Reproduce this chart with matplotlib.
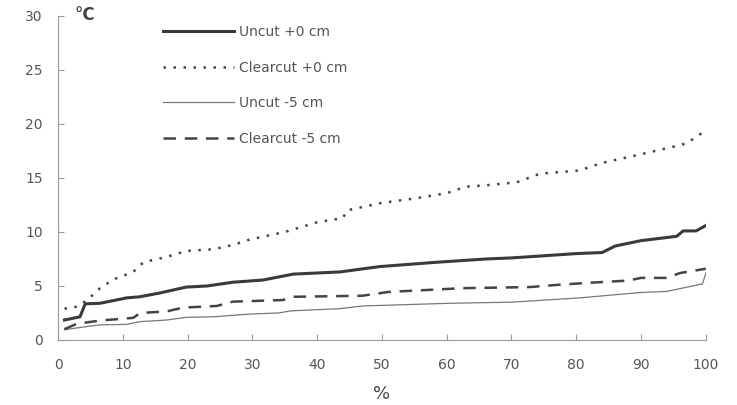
import matplotlib
matplotlib.use("Agg")
import matplotlib.pyplot as plt

# percentile (x) and temperature (y)
uncut0_x = [1, 3.4, 4.2, 6.5, 10.6, 12.6, 15.7, 19.8, 23, 27, 31.6, 36.3, 43.5, 49.7,
            58.5, 66, 70, 80, 84, 86, 90, 95.5, 96.5, 98.5, 100]
uncut0_y = [1.85, 2.15, 3.35, 3.4, 3.9, 4.0, 4.35, 4.9, 5.0, 5.35, 5.55, 6.1, 6.3, 6.8,
            7.2, 7.5, 7.6, 8.0, 8.1, 8.7, 9.2, 9.6, 10.1, 10.1, 10.6]

clear0_x = [1, 3, 4.5, 6.5, 8.5, 11.6, 13.2, 16.8, 19.8, 24, 27, 29.6, 35, 40, 44, 44.6,
            50, 55, 60, 63, 65.6, 70.8, 74.4, 80.5, 84, 90, 95, 97, 100]
clear0_y = [2.9, 3.1, 3.7, 4.8, 5.6, 6.3, 7.2, 7.7, 8.25, 8.4, 8.8, 9.3, 10.0, 10.9, 11.3, 12.0,
            12.7, 13.1, 13.6, 14.2, 14.3, 14.6, 15.4, 15.7, 16.4, 17.2, 17.9, 18.2, 19.4]

uncut5_x = [1, 3.9, 6.5, 10.6, 12.7, 16.8, 19.8, 24, 29.6, 34, 36, 43.5, 47, 60.5, 65, 70,
            80.5, 90, 94, 99.5, 100]
uncut5_y = [0.95, 1.2, 1.4, 1.45, 1.7, 1.85, 2.1, 2.15, 2.4, 2.5, 2.7, 2.9, 3.15, 3.4, 3.45, 3.5,
            3.9, 4.4, 4.5, 5.2, 6.2]

clear5_x = [1, 2.9, 6.5, 11.6, 12.7, 16.8, 19.3, 24.5, 27, 34.7, 36.3, 47, 51, 62.5, 72.8, 77,
            82, 88, 90, 94, 96, 100]
clear5_y = [1.0, 1.5, 1.8, 2.05, 2.5, 2.65, 3.0, 3.15, 3.55, 3.7, 4.0, 4.1, 4.45, 4.8, 4.9, 5.1,
            5.3, 5.5, 5.75, 5.75, 6.2, 6.6]

labels = ["Uncut +0 cm", "Clearcut +0 cm", "Uncut -5 cm", "Clearcut -5 cm"]
xticks = list(range(0, 101, 10))
yticks = list(range(0, 31, 5))

fig = plt.figure(figsize=(7.37, 4.05), dpi=100)
ax = fig.add_axes([0.0787, 0.1605, 0.879, 0.80])

ax.plot(uncut0_x, uncut0_y, color="#3a3a3a", lw=2.2, label=labels[0])
ax.plot(clear0_x, clear0_y, color="#444444", lw=1.8, linestyle=(0, (1, 3)), label=labels[1])
ax.plot(uncut5_x, uncut5_y, color="#777777", lw=0.9, label=labels[2])
ax.plot(clear5_x, clear5_y, color="#444444", lw=1.8, linestyle=(0, (5, 3.5)), label=labels[3])

ax.set_xlim(0, 100)
ax.set_ylim(0, 30)
ax.set_xticks(xticks)
ax.set_yticks(yticks)
for s in ["top", "right"]:
    ax.spines[s].set_visible(False)
for s in ["left", "bottom"]:
    ax.spines[s].set_color("#999999")
ax.tick_params(direction="in", length=4, color="#999999", labelcolor="#555555",
               labelsize=10)
ax.tick_params(axis="x", pad=13)
ax.tick_params(axis="y", pad=11)

ax.set_xlabel("%", fontsize=13, color="#444444", labelpad=9)
fig.text(0.101, 0.962, "°C", fontsize=12, fontweight="bold", color="#444444",
         ha="left", va="center")

ax.legend(loc="upper left", bbox_to_anchor=(0.143, 1.01), frameon=False,
          handlelength=5.1, handletextpad=0.35, labelspacing=1.55, fontsize=10,
          labelcolor="#555555")

fig.savefig("out.png", dpi=100)
